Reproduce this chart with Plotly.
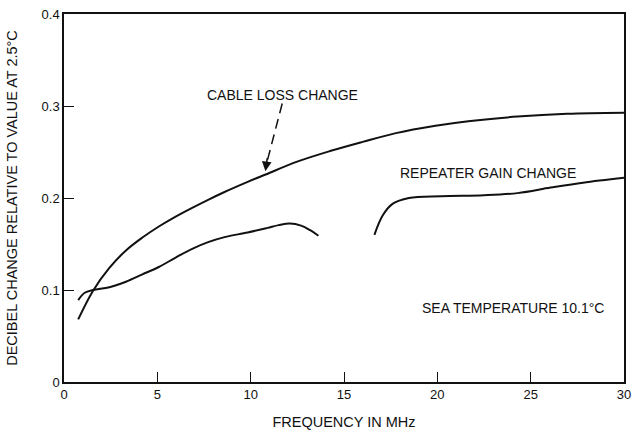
import plotly.graph_objects as go

# Cable loss change curve
cable_x = [0.76, 1.55, 2.43, 3.32, 4.2, 5.08, 5.96, 6.84, 7.72, 8.6, 9.84, 10.8,
           12.49, 14.25, 16.0, 17.78, 19.9, 21.66, 24.3, 26.95, 30.0]
cable_y = [0.068, 0.099, 0.124, 0.143, 0.157, 0.169, 0.1795, 0.189, 0.198, 0.2065,
           0.2175, 0.2255, 0.2395, 0.251, 0.261, 0.2705, 0.2785, 0.2835, 0.2885, 0.2915, 0.2927]

# Repeater gain change curve (two segments)
rep1_x = [0.76, 1.11, 1.55, 2.43, 3.32, 4.2, 5.08, 5.96, 6.84, 7.72, 8.6, 9.84,
          10.9, 11.5, 12.1, 12.7, 13.19, 13.63]
rep1_y = [0.089, 0.097, 0.100, 0.103, 0.109, 0.117, 0.125, 0.135, 0.1445, 0.152,
          0.1575, 0.1625, 0.1675, 0.1705, 0.1722, 0.1700, 0.165, 0.159]
rep2_x = [16.63, 17.07, 17.6, 18.48, 20.2, 22.5, 24.3, 26.07, 27.8, 30.0]
rep2_y = [0.160, 0.181, 0.1936, 0.2, 0.202, 0.203, 0.2053, 0.2113, 0.2167, 0.222]

x_ticks = [0, 5, 10, 15, 20, 25, 30]
y_ticks = [0, 0.1, 0.2, 0.3, 0.4]
y_tick_labels = ["0", "0.1", "0.2", "0.3", "0.4"]

FONT = "Liberation Sans, Arial, sans-serif"
INK = "#111111"

fig = go.Figure()
line_style = dict(color=INK, width=2, shape="spline", smoothing=1.0)
for xs, ys in [(cable_x, cable_y), (rep1_x, rep1_y), (rep2_x, rep2_y)]:
    fig.add_trace(go.Scatter(x=xs, y=ys, mode="lines", line=line_style,
                             showlegend=False, hoverinfo="skip"))

# dashed leader for cable loss label
fig.add_shape(type="line", x0=11.69, y0=0.3027, x1=10.86, y1=0.238,
              line=dict(color=INK, width=1.5, dash="10px,6px"))
fig.add_annotation(x=10.79, y=0.229, ax=10.9, ay=0.245, xref="x", yref="y",
                   axref="x", ayref="y", showarrow=True, arrowhead=2,
                   arrowsize=1.3, arrowwidth=1.5, arrowcolor=INK, text="")

L, R, T, B = 64, 7, 12, 49
W, H = 638, 435
pw, ph = W - L - R, H - T - B

labels = [("CABLE LOSS CHANGE", 285, 94),
          ("REPEATER GAIN CHANGE", 493, 174),
          ("SEA TEMPERATURE 10.1°C", 519, 311)]
for txt, px, py in labels:
    fig.add_annotation(x=(px - L) / pw, y=1 - (py - T) / ph, xref="paper", yref="paper",
                       xanchor="center", yanchor="middle", text=txt, showarrow=False,
                       font=dict(family=FONT, size=14, color=INK))

fig.update_layout(
    width=W, height=H,
    margin=dict(l=L, r=R, t=T, b=B),
    paper_bgcolor="white", plot_bgcolor="white",
    font=dict(family=FONT, size=13, color=INK),
)
fig.update_xaxes(
    range=[0, 30], tickvals=x_ticks, ticks="inside", ticklen=10, tickwidth=1.2,
    tickcolor=INK, showline=True, linecolor=INK, linewidth=1.5, mirror=True,
    showgrid=False, zeroline=False,
    title=dict(text="FREQUENCY IN MHz", font=dict(size=14.5), standoff=16),
    tickfont=dict(size=13),
)
fig.update_yaxes(
    range=[0, 0.4], tickvals=y_ticks, ticktext=y_tick_labels, ticks="inside",
    ticklen=10, tickwidth=1.2, tickcolor=INK, showline=True, linecolor=INK,
    linewidth=1.5, mirror=True, showgrid=False, zeroline=False,
    title=dict(text="DECIBEL CHANGE RELATIVE TO VALUE AT 2.5°C", font=dict(size=14.5),
               standoff=20),
    tickfont=dict(size=13),
)

fig.write_html("out.html")
